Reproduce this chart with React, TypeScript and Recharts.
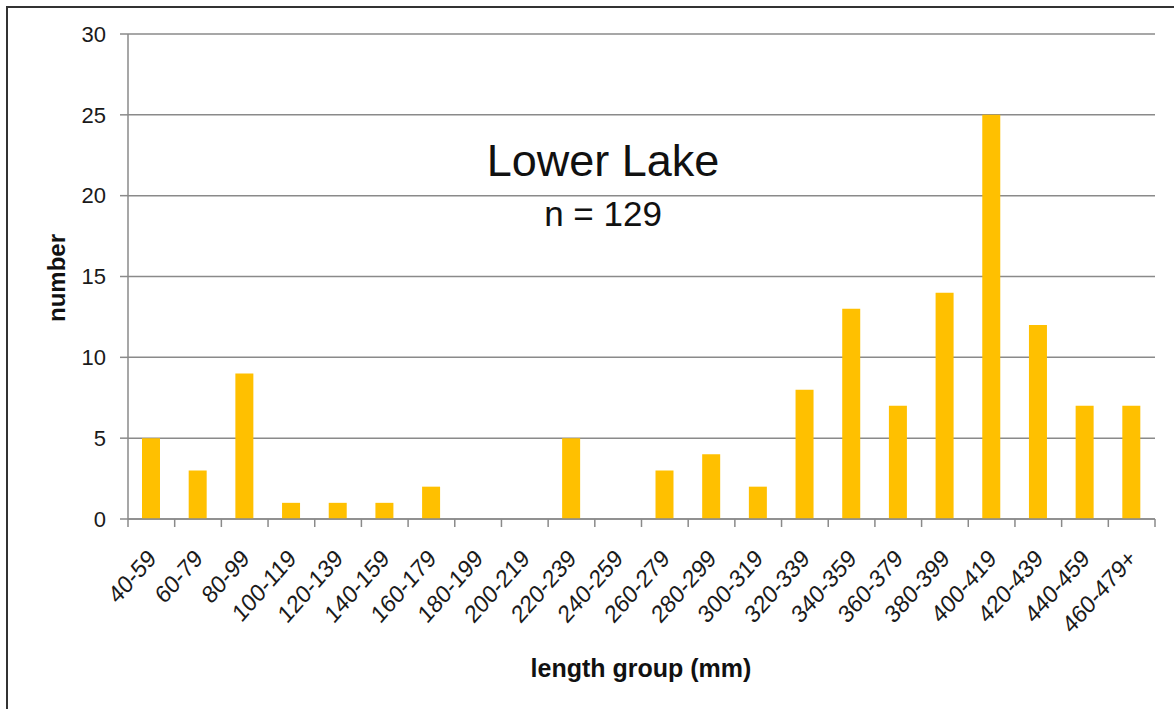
import React from 'react';
import { BarChart, Bar, XAxis, YAxis, CartesianGrid } from 'recharts';

const categories = [
  '40-59', '60-79', '80-99', '100-119', '120-139', '140-159', '160-179', '180-199',
  '200-219', '220-239', '240-259', '260-279', '280-299', '300-319', '320-339', '340-359',
  '360-379', '380-399', '400-419', '420-439', '440-459', '460-479+',
];
const counts = [5, 3, 9, 1, 1, 1, 2, 0, 0, 5, 0, 3, 4, 2, 8, 13, 7, 14, 25, 12, 7, 7];
const yTicks = [0, 5, 10, 15, 20, 25, 30];

const data = categories.map((c, i) => ({ group: c, count: counts[i] }));

const FONT = '"Liberation Sans", Arial, sans-serif';
const AXIS = '#8a8a8a';

function XTick(props: any) {
  const { x, y, payload, index, visibleTicksCount } = props;
  const half = payload && payload.offset ? payload.offset : 23.34;
  const axisY = y - 8;
  return (
    <g>
      <line x1={x - half} y1={axisY} x2={x - half} y2={axisY + 8} stroke={AXIS} strokeWidth={1.5} />
      {index === visibleTicksCount - 1 && (
        <line x1={x + half} y1={axisY} x2={x + half} y2={axisY + 8} stroke={AXIS} strokeWidth={1.5} />
      )}
      <text
        transform={`translate(${x + 6},${y + 33}) scale(1,1.13) rotate(-45)`}
        textAnchor="end"
        fontSize={22}
        fill="#1a1a1a"
        fontFamily={FONT}
      >
        {payload.value}
      </text>
    </g>
  );
}

export default function App() {
  return (
    <div style={{ position: 'absolute', left: 0, top: 0, width: 1174, height: 709, background: '#fff', overflow: 'hidden' }}>
      <div
        style={{
          position: 'absolute', left: 6, top: 6, width: 1180, height: 720,
          border: '2px solid #333', boxSizing: 'border-box',
        }}
      />
      <BarChart
        width={1174}
        height={709}
        data={data}
        margin={{ top: 34, right: 19, left: 0, bottom: 70 }}
        barSize={18}
        style={{ position: 'absolute', left: 0, top: 0 }}
      >
        <CartesianGrid vertical={false} stroke={AXIS} strokeWidth={1.5} />
        <XAxis
          dataKey="group"
          interval={0}
          height={120}
          tickLine={false}
          tickSize={8}
          tickMargin={0}
          axisLine={{ stroke: AXIS, strokeWidth: 1.5 }}
          tick={<XTick />}
        />
        <YAxis
          width={128}
          domain={[0, 30]}
          ticks={yTicks}
          interval={0}
          tickSize={8}
          tickMargin={14}
          tickLine={{ stroke: AXIS, strokeWidth: 1.5 }}
          axisLine={{ stroke: AXIS, strokeWidth: 1.5 }}
          tick={{ fontSize: 22, fill: '#1a1a1a', fontFamily: FONT }}
        />
        <Bar dataKey="count" fill="#FFC000" isAnimationActive={false} />
      </BarChart>
      <div style={{ position: 'absolute', left: 403, width: 400, top: 136, textAlign: 'center', fontFamily: FONT, fontSize: 45, color: '#111', lineHeight: '50px' }}>
        Lower Lake
      </div>
      <div style={{ position: 'absolute', left: 403, width: 400, top: 194, textAlign: 'center', fontFamily: FONT, fontSize: 35, color: '#111', lineHeight: '40px' }}>
        n = 129
      </div>
      <div style={{ position: 'absolute', left: 441, width: 400, top: 654, textAlign: 'center', fontFamily: FONT, fontSize: 25, fontWeight: 'bold', color: '#111', lineHeight: '28px' }}>
        length group (mm)
      </div>
      <div style={{ position: 'absolute', left: 57 - 100, width: 200, top: 278 - 14, height: 28, textAlign: 'center', fontFamily: FONT, fontSize: 24, fontWeight: 'bold', color: '#111', lineHeight: '28px', transform: 'rotate(-90deg)' }}>
        number
      </div>
    </div>
  );
}
